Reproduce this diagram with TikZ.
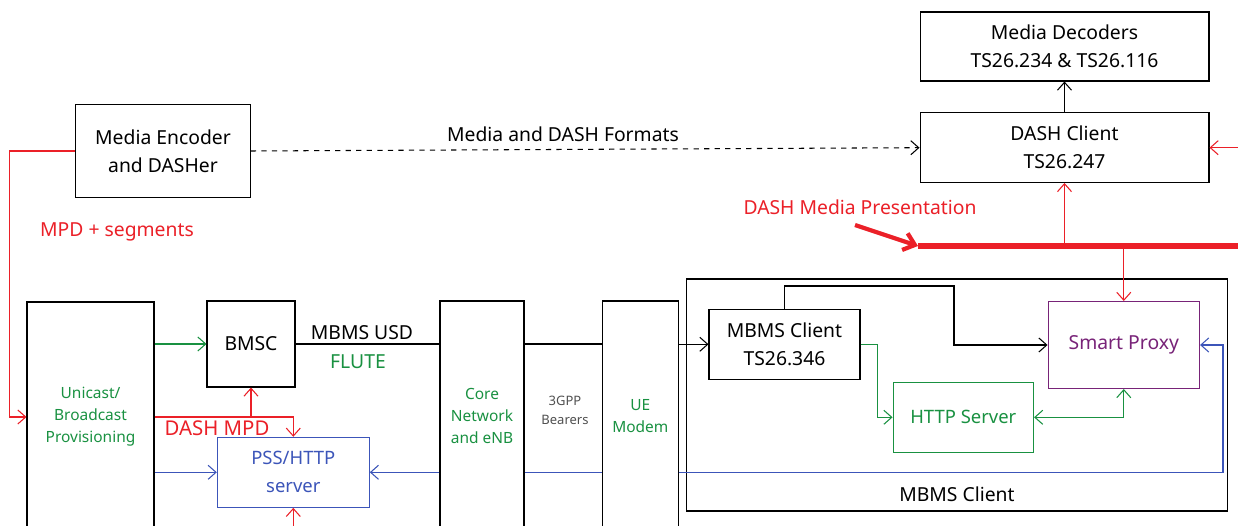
\documentclass[tikz,border=0pt]{standalone}
\usepackage{fontspec}
\setmainfont{Noto Sans}
\usetikzlibrary{arrows.meta}

\definecolor{dashred}{RGB}{235,32,40}
\definecolor{flutegreen}{RGB}{25,145,65}
\definecolor{pssblue}{RGB}{60,85,185}
\definecolor{proxypurple}{RGB}{120,35,120}
\definecolor{bearergray}{RGB}{80,80,80}

\tikzset{
    box/.style={draw, fill=white, line width=0.6pt, align=center, inner sep=0pt},
    bigtxt/.style={font=\fontsize{11}{16}\selectfont, align=center},
    midtxt/.style={font=\fontsize{10.5}{16}\selectfont, align=center},
    smalltxt/.style={font=\fontsize{8.8}{12.5}\selectfont, align=center},
    tinytxt/.style={font=\fontsize{7.4}{10.8}\selectfont, align=center},
    wire/.style={line width=0.6pt},
    redwire/.style={wire, draw=dashred},
    greenwire/.style={wire, draw=flutegreen},
    bluewire/.style={wire, draw=pssblue}
}

\begin{document}
\begin{tikzpicture}[x=0.02cm, y=-0.02cm, >={Straight Barb[length=4.5pt,width=8pt]}]

    \clip (0,0) rectangle (1238,526);
    \fill[white] (0,0) rectangle (1238,526);

    % top row
    \node[box, bigtxt, minimum width=3.49cm, minimum height=1.85cm] (enc) at (163,151) {Media Encoder\\and DASHer};
    \node[box, bigtxt, minimum width=5.78cm, minimum height=1.38cm] (dec) at (1064.5,46.5) {Media Decoders\\TS26.234 \& TS26.116};
    \node[box, bigtxt, minimum width=5.78cm, minimum height=1.39cm] (dclient) at (1064.5,147.7) {DASH Client\\TS26.247};

    % network side
    \node[box, smalltxt, text=flutegreen, minimum width=2.54cm, minimum height=4.6cm] (unicast) at (90.5,417) {Unicast/\\Broadcast\\Provisioning};
    \node[box, bigtxt, minimum width=1.76cm, minimum height=1.72cm] (bmsc) at (251,344) {BMSC};
    \node[box, midtxt, draw=pssblue, text=pssblue, minimum width=3.04cm, minimum height=1.4cm] (pss) at (293.3,472.3) {PSS/HTTP\\server};

    % UE side
    \node[box, minimum width=10.84cm, minimum height=4.64cm] (mbms) at (957,395) {};
    \node[bigtxt] (mbmslabel) at (957,494) {MBMS Client};
    \node[box, bigtxt, minimum width=3.02cm, minimum height=1.41cm] (mclient) at (784.5,344.3) {MBMS Client\\TS26.346};
    \node[box, bigtxt, draw=proxypurple, text=proxypurple, minimum width=3.03cm, minimum height=1.74cm] (proxy) at (1123.8,345) {Smart Proxy};
    \node[box, midtxt, draw=flutegreen, text=flutegreen, minimum width=2.81cm, minimum height=1.39cm] (http) at (963.3,417.3) {HTTP Server};

    % bearers
    \node[box, smalltxt, text=flutegreen, minimum width=1.68cm, minimum height=4.6cm] (core) at (482,416) {Core\\Network\\and eNB};
    \node[box, smalltxt, text=flutegreen, minimum width=1.51cm, minimum height=4.6cm] (ue) at (640.3,416) {UE\\Modem};
    \node[tinytxt, text=bearergray] (bearers) at (565,410) {3GPP\\Bearers};

    % free ends
    \coordinate (rin) at (1240,147.7);
    \coordinate (pssin) at (293.3,530);
    \coordinate (barl) at (918,246);
    \coordinate (barr) at (1240,246);
    \coordinate (kink) at (954,286);
    \coordinate (bturn) at (1223,472.3);
    \coordinate (ptail) at (855,225);

    % labels
    \node[bigtxt, text=dashred] (mpdseg) at (117,232) {MPD + segments};
    \node[bigtxt, text=dashred] (presentation) at (860,207) {DASH Media Presentation};
    \node[bigtxt] (formats) at (563,134) {Media and DASH Formats};
    \node[bigtxt] (usd) at (362,333) {MBMS USD};
    \node[bigtxt, text=flutegreen] (flute) at (358,362) {FLUTE};
    \node[font=\fontsize{11.6}{14}\selectfont, text=dashred] (dashmpd) at (217,428) {DASH MPD};

    % connectors
    \draw[wire, dashed, ->] (enc.east) -- (dclient.west);
    \draw[wire, ->] (dclient.north) -- (dec.south);
    \draw[redwire, ->] (enc.west) -- ++(-66,0) |- (unicast.west);
    \draw[redwire, ->] (rin) -- (dclient.east);
    \draw[draw=dashred, line width=3.6pt] (barl) -- (barr);
    \draw[draw=dashred, line width=2.4pt, -{Straight Barb[length=6pt,width=10pt]}] (ptail) -- (barl);
    \draw[redwire, ->] (dclient.south |- barl) -- (dclient.south);
    \draw[redwire, ->] (proxy.north |- barl) -- (proxy.north);

    \draw[greenwire, ->] (unicast.east |- bmsc.west) -- (bmsc.west);
    \draw[bluewire, ->] (unicast.east |- pss.west) -- (pss.west);
    \draw[redwire, ->] (unicast.east) -| (pss.north);
    \draw[redwire, ->] (bmsc.south |- unicast.east) -- (bmsc.south);
    \draw[redwire, ->] (pssin) -- (pss.south);

    \draw[wire] (bmsc.east) -- (core.west |- bmsc.east);
    \draw[wire] (core.east |- bmsc.east) -- (ue.west |- bmsc.east);
    \draw[wire, ->] (ue.east |- mclient.west) -- (mclient.west);

    \draw[bluewire, ->] (core.west |- pss.east) -- (pss.east);
    \draw[bluewire] (core.east |- pss.east) -- (ue.west |- pss.east);
    \draw[bluewire, ->] (ue.east |- pss.east) -- (bturn) |- (proxy.east);

    \draw[wire, ->] (mclient.north) |- (kink) |- (proxy.west);
    \draw[greenwire, ->] (mclient.east) -- ++(17,0) |- (http.west);
    \draw[greenwire, <->] (http.east) -| (proxy.south);

\end{tikzpicture}
\end{document}
